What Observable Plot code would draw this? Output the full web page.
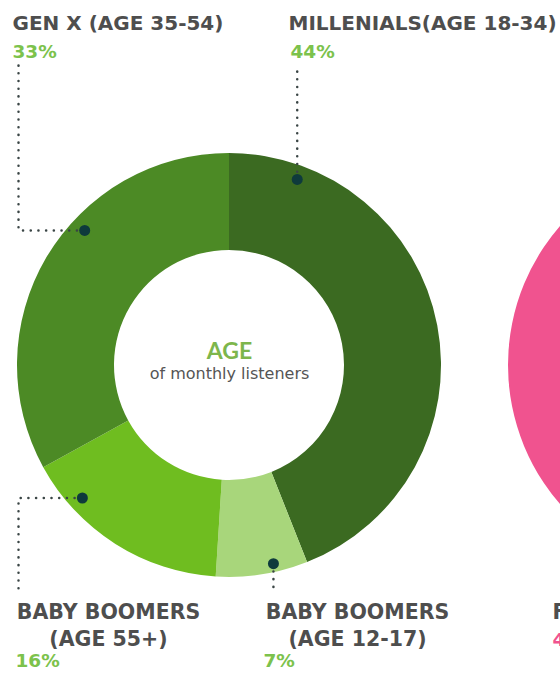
<!DOCTYPE html>
<html><head><meta charset="utf-8">
<script src="https://cdn.jsdelivr.net/npm/d3@7"></script>
<script src="https://cdn.jsdelivr.net/npm/@observablehq/plot@0.6"></script>
<style>body{margin:0;background:#fff;overflow:hidden}</style>
</head><body><div id="chart"></div>
<script>
// ---- data ----
const segments = ["Millenials", "Teens", "Baby Boomers", "Gen X"];
const shares = [44, 7, 16, 33];
const segmentTitles = ["MILLENIALS(AGE 18-34)", "BABY BOOMERS\n(AGE 12-17)", "BABY BOOMERS\n(AGE 55+)", "GEN X (AGE 35-54)"];
const shareLabels = ["44%", "7%", "16%", "33%"];
const centerTitle = "AGE";
const centerSubtitle = "of monthly listeners";
const genderSegments = ["Female"];
const genderShares = [100];
const genderTitle = "FEMALE";
const genderShareLabel = "4";

// ---- styles / layout ----
const W = 560, H = 681;
const ageColors = ["#3b6a21", "#a8d67b", "#6fbd20", "#4c8a25"];
const genderColors = ["#f0538f"];
const C = {x: 229, y: 365}, C2 = {x: 720, y: 365};
const R = 212, r0 = 115;
const dotAngle = [20, 167.5, 228, 313];
const dotRadius = [198, 203, 198, 198];
const titlePos = [{x: 288, y: 29, a: "start"}, {x: 357, y: 645, a: "middle"}, {x: 108, y: 645, a: "middle"}, {x: 12, y: 29, a: "start"}];
const sharePos = [{x: 290, y: 57}, {x: 263, y: 666}, {x: 15, y: 666}, {x: 12, y: 57}];
const gray = "#4e4e4e", green = "#7cc24c";

const rows = segments.map((s, i) => {
  const a = dotAngle[i] * Math.PI / 180;
  const dx = C.x + dotRadius[i] * Math.sin(a), dy = C.y - dotRadius[i] * Math.cos(a);
  return {seg: s, share: shares[i], title: segmentTitles[i], label: shareLabels[i], dx, dy, ...titlePos[i], sx: sharePos[i].x, sy: sharePos[i].y};
});
const leaderRoutes = {
  "Millenials": d => [[d.dx, d.dy], [d.dx, 65]],
  "Teens": d => [[d.dx, d.dy], [d.dx, 592]],
  "Baby Boomers": d => [[d.dx, d.dy], [18, d.dy], [18, 592]],
  "Gen X": d => [[d.dx, d.dy], [18, d.dy], [18, 65]]
};
const leaders = rows.flatMap(d => leaderRoutes[d.seg](d).map(([x, y]) => ({seg: d.seg, x, y})));

function donut(center, values, colors) {
  return (index, scales) => {
    const cx = scales.x(center.x), cy = scales.y(center.y);
    const outer = scales.x(center.x + R) - cx, inner = scales.x(center.x + r0) - cx;
    const g = d3.create("svg:g").attr("transform", `translate(${cx},${cy})`);
    const arcs = d3.pie().sort(null).value(d => d)(values);
    const arc = d3.arc().innerRadius(inner).outerRadius(outer);
    g.selectAll("path").data(arcs).join("path").attr("d", arc).attr("fill", (d, i) => colors[i]);
    return g.node();
  };
}

const wide = "'DejaVu Sans', sans-serif";
const chart = Plot.plot({
  width: W, height: H, margin: 0,
  style: {background: "#fff", fontFamily: wide, overflow: "hidden"},
  x: {domain: [0, W], range: [0, W], axis: null},
  y: {domain: [0, H], range: [0, H], axis: null},
  marks: [
    donut(C2, genderShares, genderColors),
    donut(C, shares, ageColors),
    Plot.line(leaders, {x: "x", y: "y", z: "seg", stroke: "#3a4545", strokeWidth: 2.5, strokeDasharray: "0.1 7.6", strokeLinecap: "round"}),
    Plot.dot(rows, {x: "dx", y: "dy", r: 5.5, fill: "#0e3a3c"}),
    Plot.text(rows.filter(d => d.a === "start"), {x: "x", y: "y", text: "title", textAnchor: "start", lineAnchor: "bottom", fontSize: 20, fontWeight: "bold", fill: gray}),
    Plot.text(rows.filter(d => d.a === "middle"), {x: "x", y: "y", text: "title", textAnchor: "middle", lineAnchor: "bottom", lineHeight: 27 / 20.5, fontSize: 20.5, fontWeight: "bold", fill: gray}),
    Plot.text(rows, {x: "sx", y: "sy", text: "label", textAnchor: "start", lineAnchor: "bottom", fontSize: 18.5, fontWeight: "bold", fill: green}),
    Plot.text([centerTitle], {x: C.x, y: C.y - 7, text: d => d, textAnchor: "middle", lineAnchor: "bottom", fontSize: 23, fontWeight: "bold", fontFamily: "Lato, sans-serif", fill: "#7db64c"}),
    Plot.text([centerSubtitle], {x: C.x, y: C.y + 13, text: d => d, textAnchor: "middle", lineAnchor: "bottom", fontSize: 16, fill: "#555"}),
    Plot.text([genderTitle], {x: 552, y: 618, text: d => d, textAnchor: "start", lineAnchor: "bottom", fontSize: 20.5, fontWeight: "bold", fill: gray}),
    Plot.text([genderShareLabel], {x: 552, y: 645, text: d => d, textAnchor: "start", lineAnchor: "bottom", fontSize: 18.5, fontWeight: "bold", fill: "#f0538f"})
  ]
});
document.getElementById("chart").append(chart);
</script>
</body></html>
